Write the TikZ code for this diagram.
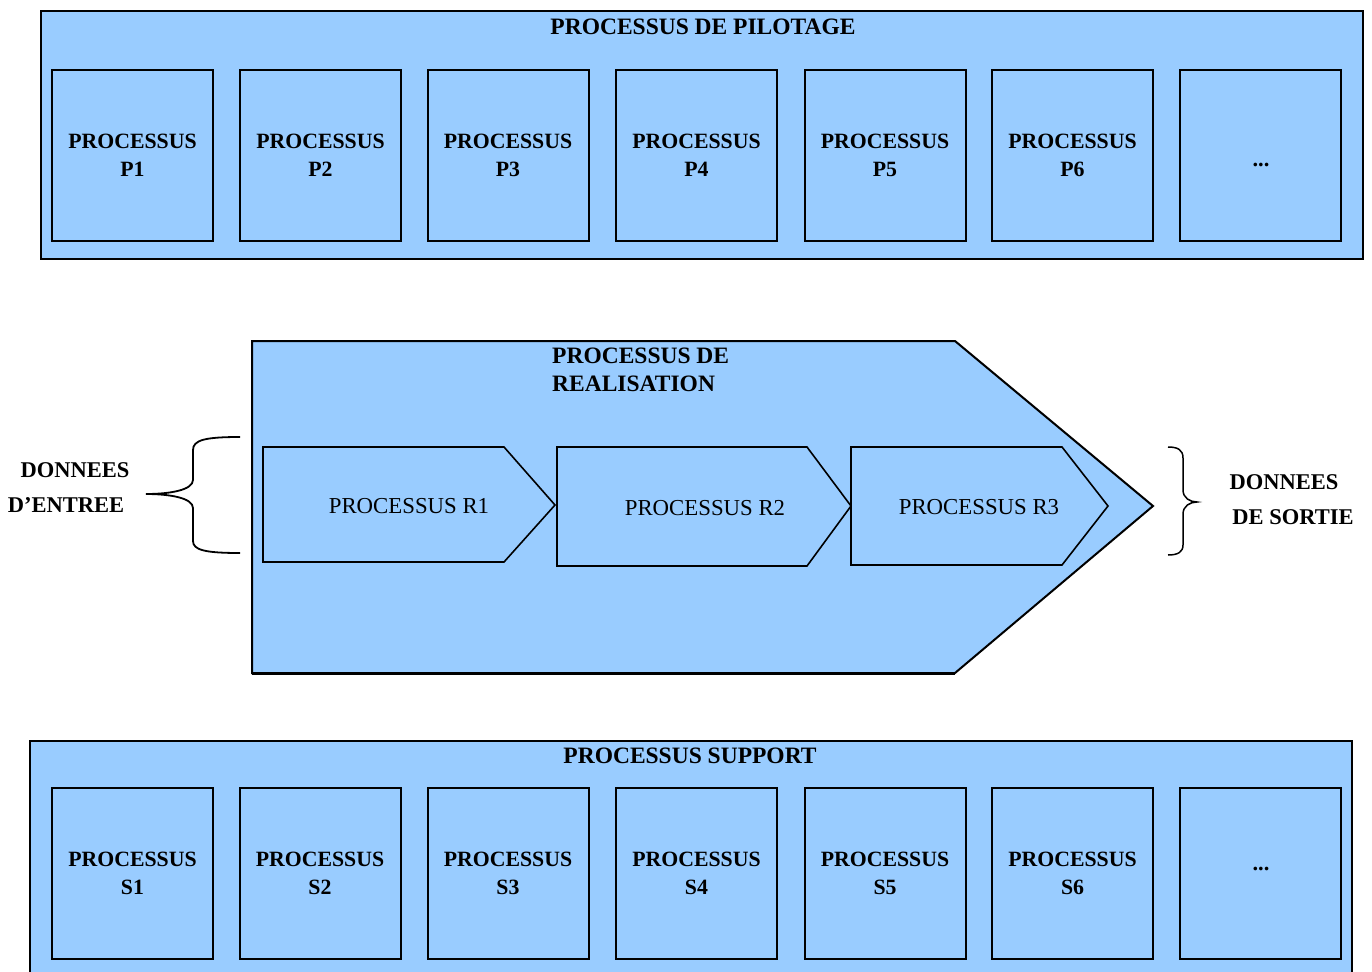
\documentclass[tikz,border=0pt]{standalone}
\usepackage{fontspec}
\setmainfont{Liberation Serif}
\begin{document}
\begin{tikzpicture}[x=1pt,y=-1pt,
  bigbox/.style={draw=black,line width=2.5pt,fill=boxblue},
  procbox/.style={draw=black,line width=2pt,fill=boxblue,minimum width=161pt,minimum height=171pt,inner sep=0pt,align=center,font=\fontsize{21.8}{28}\selectfont\bfseries},
  chev/.style={draw=black,line width=1.6pt,fill=boxblue,line join=miter},
  lbl/.style={inner sep=0pt,font=\fontsize{22.5}{28}\selectfont\bfseries,align=center},
  tlbl/.style={inner sep=0pt,font=\fontsize{23.5}{28}\selectfont\bfseries,align=center},
  rlbl/.style={inner sep=0pt,font=\fontsize{22.8}{28}\selectfont},
  brace/.style={draw=black,line width=1.8pt}]
\definecolor{boxblue}{HTML}{99CCFF}
\useasboundingbox (0,0) rectangle (1372,971);
\clip (0,0) rectangle (1372,971);
% top
\draw[bigbox] (41,11) rectangle (1363,259);
\node[tlbl] (tpil) at (703,27) {PROCESSUS DE PILOTAGE};
\node[procbox] (p1) at (132.5,155.5) {PROCESSUS\\P1};
\node[procbox] (p2) at (320.5,155.5) {PROCESSUS\\P2};
\node[procbox] (p3) at (508,155.5) {PROCESSUS\\P3};
\node[procbox] (p4) at (696.5,155.5) {PROCESSUS\\P4};
\node[procbox] (p5) at (885,155.5) {PROCESSUS\\P5};
\node[procbox] (p6) at (1072.5,155.5) {PROCESSUS\\P6};
\node[procbox] (p7) at (1260,155.5) {};
\node[lbl] (pdots) at (1261,165) {...};
% middle
\draw[chev,line width=2pt] (252,341) -- (955,341) -- (1153,506) -- (955,673) -- (252,673) -- cycle;
\draw[line width=3pt] (252,673) -- (955,673);
\node[tlbl,anchor=west,align=left] (treal) at (552,370) {PROCESSUS DE\\REALISATION};
\draw[chev] (263,447) -- (504,447) -- (555,505) -- (504,562) -- (263,562) -- cycle;
\draw[chev] (557,447) -- (807,447) -- (851,506) -- (807,566) -- (557,566) -- cycle;
\draw[chev] (851,447) -- (1062,447) -- (1108,506) -- (1062,565) -- (851,565) -- cycle;
\node[rlbl] (r1) at (409,506) {PROCESSUS R1};
\node[rlbl] (r2) at (705,508) {PROCESSUS R2};
\node[rlbl] (r3) at (979,507) {PROCESSUS R3};
% braces
\draw[brace] (240,437) .. controls (205,437) and (193,440) .. (193,450) -- (193,480)
  .. controls (193,490) and (170,494) .. (146,494)
  .. controls (170,494) and (193,498) .. (193,508) -- (193,541)
  .. controls (193,550) and (205,553) .. (240,553);
\draw[brace,line width=1.5pt] (1168,447) .. controls (1178,447) and (1183,450) .. (1183,458) -- (1183,490)
  .. controls (1183,498) and (1190,502) .. (1197,502)
  .. controls (1190,502) and (1183,506) .. (1183,514) -- (1183,545)
  .. controls (1183,552) and (1178,555) .. (1168,555);
\node[lbl] (din1) at (75,470) {DONNEES};
\node[lbl] (din2) at (66,505) {D'ENTREE};
\node[lbl] (dout1) at (1284,482) {DONNEES};
\node[lbl] (dout2) at (1293,517) {DE SORTIE};
% bottom
\draw[bigbox] (30,741) rectangle (1352,1000);
\node[tlbl] (tsup) at (690,756) {PROCESSUS SUPPORT};
\node[procbox] (s1) at (132.5,873.5) {PROCESSUS\\S1};
\node[procbox] (s2) at (320,873.5) {PROCESSUS\\S2};
\node[procbox] (s3) at (508,873.5) {PROCESSUS\\S3};
\node[procbox] (s4) at (696.5,873.5) {PROCESSUS\\S4};
\node[procbox] (s5) at (885,873.5) {PROCESSUS\\S5};
\node[procbox] (s6) at (1072.5,873.5) {PROCESSUS\\S6};
\node[procbox] (s7) at (1260,873.5) {};
\node[lbl] (sdots) at (1261,869) {...};
\end{tikzpicture}
\end{document}
